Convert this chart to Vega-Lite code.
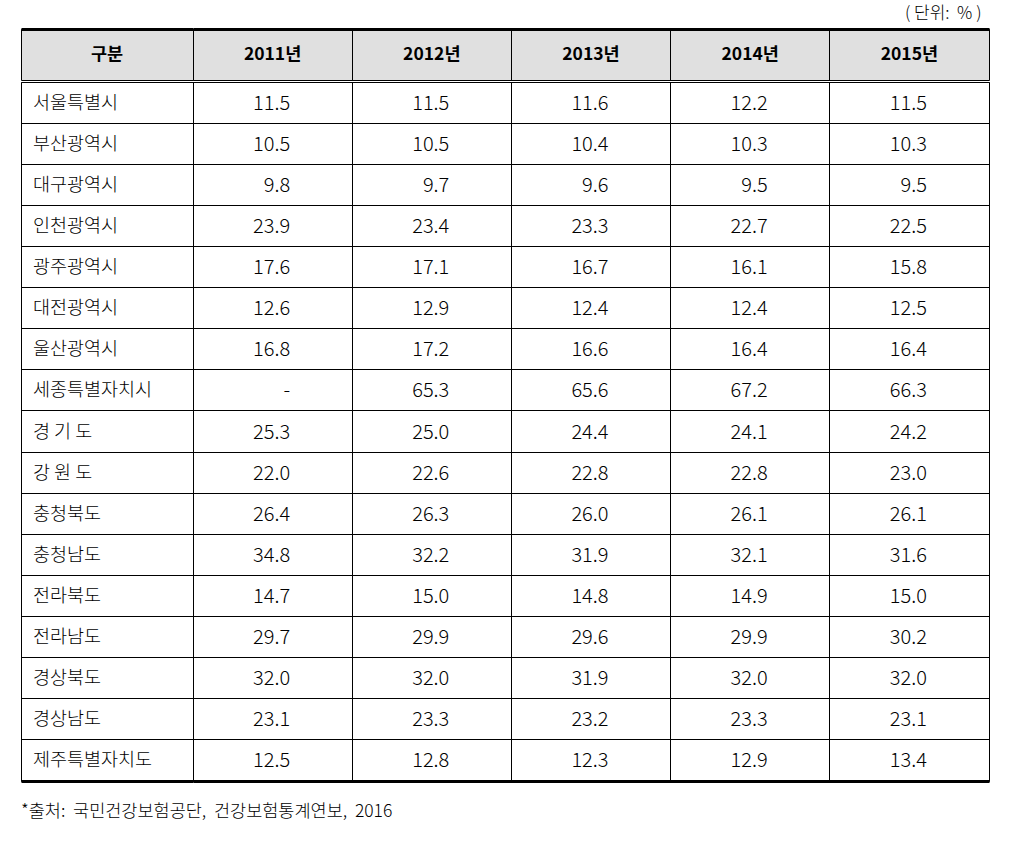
{
  "$schema": "https://vega.github.io/schema/vega-lite/v6.json",
  "autosize": {"type": "pad"},
  "padding": {"left": 20, "top": 4, "right": 10, "bottom": 10},
  "background": "white",
  "bounds": "flush",
  "columns": 2,
  "spacing": {"row": 2, "column": 0},
  "title": {"text": "( 단위:\u00a0\u00a0% )", "anchor": "end", "orient": "top", "fontSize": 17, "fontWeight": 300, "color": "black", "offset": 6, "dx": -8},
  "config": {
    "font": "Noto Sans CJK KR",
    "view": {"stroke": "black", "strokeWidth": 1},
    "axis": {"labels": false, "ticks": false, "domain": false, "grid": false, "gridColor": "black", "gridWidth": 1, "gridOpacity": 1, "domainColor": "black", "domainWidth": 3},
    "text": {"color": "black"}
  },
  "datasets": {
    "table": [
      {"region": "서울특별시", "2011년": 11.5, "2012년": 11.5, "2013년": 11.6, "2014년": 12.2, "2015년": 11.5},
      {"region": "부산광역시", "2011년": 10.5, "2012년": 10.5, "2013년": 10.4, "2014년": 10.3, "2015년": 10.3},
      {"region": "대구광역시", "2011년": 9.8, "2012년": 9.7, "2013년": 9.6, "2014년": 9.5, "2015년": 9.5},
      {"region": "인천광역시", "2011년": 23.9, "2012년": 23.4, "2013년": 23.3, "2014년": 22.7, "2015년": 22.5},
      {"region": "광주광역시", "2011년": 17.6, "2012년": 17.1, "2013년": 16.7, "2014년": 16.1, "2015년": 15.8},
      {"region": "대전광역시", "2011년": 12.6, "2012년": 12.9, "2013년": 12.4, "2014년": 12.4, "2015년": 12.5},
      {"region": "울산광역시", "2011년": 16.8, "2012년": 17.2, "2013년": 16.6, "2014년": 16.4, "2015년": 16.4},
      {"region": "세종특별자치시", "2011년": null, "2012년": 65.3, "2013년": 65.6, "2014년": 67.2, "2015년": 66.3},
      {"region": "경 기 도", "2011년": 25.3, "2012년": 25.0, "2013년": 24.4, "2014년": 24.1, "2015년": 24.2},
      {"region": "강 원 도", "2011년": 22.0, "2012년": 22.6, "2013년": 22.8, "2014년": 22.8, "2015년": 23.0},
      {"region": "충청북도", "2011년": 26.4, "2012년": 26.3, "2013년": 26.0, "2014년": 26.1, "2015년": 26.1},
      {"region": "충청남도", "2011년": 34.8, "2012년": 32.2, "2013년": 31.9, "2014년": 32.1, "2015년": 31.6},
      {"region": "전라북도", "2011년": 14.7, "2012년": 15.0, "2013년": 14.8, "2014년": 14.9, "2015년": 15.0},
      {"region": "전라남도", "2011년": 29.7, "2012년": 29.9, "2013년": 29.6, "2014년": 29.9, "2015년": 30.2},
      {"region": "경상북도", "2011년": 32.0, "2012년": 32.0, "2013년": 31.9, "2014년": 32.0, "2015년": 32.0},
      {"region": "경상남도", "2011년": 23.1, "2012년": 23.3, "2013년": 23.2, "2014년": 23.3, "2015년": 23.1},
      {"region": "제주특별자치도", "2011년": 12.5, "2012년": 12.8, "2013년": 12.3, "2014년": 12.9, "2015년": 13.4}
    ]
  },
  "concat": [
    {
      "width": 172,
      "height": 51,
      "view": {"fill": "#e0e0e0", "stroke": "black"},
      "data": {"values": [{"label": "구분"}]},
      "mark": {"type": "text", "fontSize": 17.5, "fontWeight": "bold", "baseline": "middle"},
      "encoding": {
        "x": {"field": "label", "type": "nominal", "title": null, "scale": {"type": "band", "paddingInner": 0, "paddingOuter": 0}, "axis": {"orient": "top", "domain": true}},
        "text": {"field": "label"}
      }
    },
    {
      "width": 796,
      "height": 51,
      "view": {"fill": "#e0e0e0", "stroke": "black"},
      "data": {"name": "table"},
      "transform": [
        {"fold": ["2011년", "2012년", "2013년", "2014년", "2015년"], "as": ["year", "value"]},
        {"aggregate": [{"op": "count", "as": "n"}], "groupby": ["year"]}
      ],
      "mark": {"type": "text", "fontSize": 17.5, "fontWeight": "bold", "baseline": "middle"},
      "encoding": {
        "x": {"field": "year", "type": "nominal", "sort": ["2011년", "2012년", "2013년", "2014년", "2015년"], "title": null, "scale": {"type": "band", "paddingInner": 0, "paddingOuter": 0}, "axis": {"orient": "top", "domain": true, "grid": true, "bandPosition": 0}},
        "text": {"field": "year"}
      }
    },
    {
      "width": 172,
      "height": 699,
      "data": {"name": "table"},
      "title": {"text": "*출처:\u00a0\u00a0국민건강보험공단,\u00a0\u00a0건강보험통계연보,\u00a0\u00a02016", "orient": "bottom", "anchor": "start", "frame": "group", "fontSize": 17.5, "fontWeight": 300, "color": "black", "offset": 22},
      "mark": {"type": "text", "align": "left", "dx": -74, "fontSize": 18.5, "fontWeight": 300, "baseline": "middle"},
      "encoding": {
        "x": {"datum": "구분", "type": "nominal", "title": null, "scale": {"type": "band", "paddingInner": 0, "paddingOuter": 0}, "axis": {"orient": "bottom", "domain": true}},
        "y": {"field": "region", "type": "nominal", "sort": null, "title": null, "scale": {"type": "band", "paddingInner": 0, "paddingOuter": 0}, "axis": {"grid": true, "bandPosition": 0}},
        "text": {"field": "region"}
      }
    },
    {
      "width": 796,
      "height": 699,
      "data": {"name": "table"},
      "transform": [
        {"fold": ["2011년", "2012년", "2013년", "2014년", "2015년"], "as": ["year", "value"]},
        {"calculate": "datum.value == null ? '-' : format(datum.value, '.1f')", "as": "label"}
      ],
      "mark": {"type": "text", "align": "right", "dx": 17.5, "dy": 1, "fontSize": 20, "fontWeight": 300, "baseline": "middle"},
      "encoding": {
        "x": {"field": "year", "type": "nominal", "sort": ["2011년", "2012년", "2013년", "2014년", "2015년"], "title": null, "scale": {"type": "band", "paddingInner": 0, "paddingOuter": 0}, "axis": {"orient": "bottom", "domain": true, "grid": true, "bandPosition": 0}},
        "y": {"field": "region", "type": "nominal", "sort": null, "title": null, "scale": {"type": "band", "paddingInner": 0, "paddingOuter": 0}, "axis": {"grid": true, "bandPosition": 0}},
        "text": {"field": "label"}
      }
    }
  ]
}
